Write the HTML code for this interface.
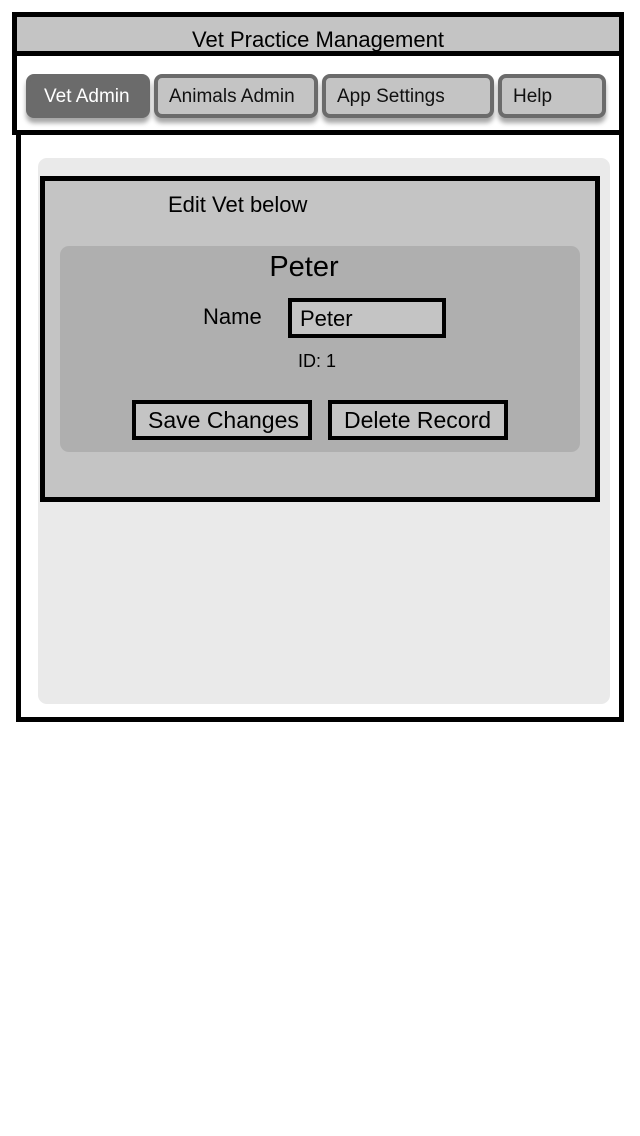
<!DOCTYPE html>
<html><head><style>
body{margin:0;width:640px;height:1136px;background:#fff;position:relative;font-family:"Liberation Sans",sans-serif;overflow:hidden}
div{position:absolute;box-sizing:border-box}
.tab{top:74px;height:44px;border-radius:8px;border:4px solid #6b6b6b;background:#c4c4c4;box-shadow:0 5px 5px rgba(0,0,0,0.35);font-size:19px;color:#111;padding:8px 0 0 11px}
.btn{border:4px solid #000;background:#c4c4c4;font-size:23px;height:40px;padding:3px 0 0 12px}
</style></head><body>
<div style="left:16px;top:130px;width:608px;height:592px;border:5px solid #000"></div>
<div style="left:12px;top:12px;width:612px;height:123px;border:5px solid #000;background:#fff"></div>
<div style="left:17px;top:17px;width:602px;height:39px;background:#c4c4c4;border-bottom:5px solid #000;font-size:22px;text-align:center;line-height:46px">Vet Practice Management</div>
<div class="tab" style="left:26px;width:124px;background:#6b6b6b;color:#fff;padding-left:14px">Vet Admin</div>
<div class="tab" style="left:154px;width:164px">Animals Admin</div>
<div class="tab" style="left:322px;width:172px">App Settings</div>
<div class="tab" style="left:498px;width:108px">Help</div>
<div style="left:38px;top:158px;width:572px;height:546px;background:#eaeaea;border-radius:9px"></div>
<div style="left:40px;top:176px;width:560px;height:326px;background:#c4c4c4;border:5px solid #000"></div>
<div style="left:168px;top:192px;font-size:22px">Edit Vet below</div>
<div style="left:60px;top:246px;width:520px;height:206px;background:#afafaf;border-radius:9px"></div>
<div style="left:60px;top:251px;width:488px;text-align:center;font-size:29px">Peter</div>
<div style="left:203px;top:304px;font-size:22px">Name</div>
<div style="left:288px;top:298px;width:158px;height:40px;border:4px solid #000;background:#c4c4c4;font-size:22px;padding:4px 0 0 8px">Peter</div>
<div style="left:298px;top:351px;font-size:18px">ID: 1</div>
<div class="btn" style="left:132px;top:400px;width:180px">Save Changes</div>
<div class="btn" style="left:328px;top:400px;width:180px">Delete Record</div>
</body></html>
